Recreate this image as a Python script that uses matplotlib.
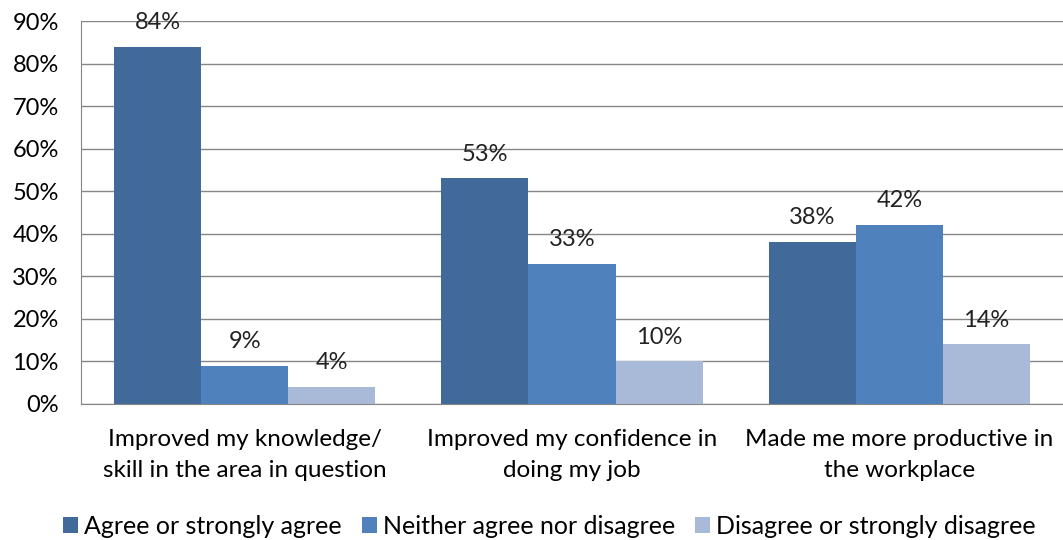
import matplotlib
matplotlib.use("Agg")
import matplotlib.pyplot as plt
import numpy as np

categories = ["Improved my knowledge/\nskill in the area in question",
              "Improved my confidence in\ndoing my job",
              "Made me more productive in\nthe workplace"]
series = ["Agree or strongly agree", "Neither agree nor disagree", "Disagree or strongly disagree"]
agree = [84, 53, 38]
neither = [9, 33, 42]
disagree = [4, 10, 14]
colors = ["#41699A", "#4F81BD", "#A9BAD9"]

plt.rcParams['font.family'] = ['Lato', 'DejaVu Sans']

fig = plt.figure(figsize=(10.63, 5.40), dpi=100)
ax = fig.add_axes([81/1063, 1 - 404/540, (1063 - 81)/1063, (404 - 21)/540])

x = np.arange(len(categories))
w = 0.266
for i, (vals, name) in enumerate(zip([agree, neither, disagree], series)):
    pos = x + (i - 1) * w
    ax.bar(pos, vals, width=w, color=colors[i], label=name, zorder=3)
    for p, v in zip(pos, vals):
        ax.annotate(f"{v}%", (p, v), xytext=(0, 10), textcoords="offset points",
                    ha="center", va="bottom", fontsize=17, color="#222222")

ax.set_xlim(-0.5, 2.5)
ax.set_ylim(0, 90)
ax.set_yticks(range(0, 91, 10))
ax.set_yticklabels([f"{t}%" for t in range(0, 91, 10)], fontsize=17)
ax.set_xticks(x)
ax.set_xticklabels(categories, fontsize=17.5, linespacing=1.6)
ax.tick_params(axis="y", length=0, pad=16)
ax.tick_params(axis="x", length=0, pad=18)
ax.yaxis.grid(True, color="#868686", linewidth=1, zorder=0)
for s in ["top", "right"]:
    ax.spines[s].set_visible(False)
for s in ["left", "bottom"]:
    ax.spines[s].set_color("#868686")
ax.spines["bottom"].set_zorder(4)

ax.legend(loc="lower center", bbox_to_anchor=(0.477, -0.375), ncol=3, frameon=False,
          fontsize=18, handlelength=0.6, handleheight=0.6, handletextpad=0.25,
          columnspacing=0.8, borderaxespad=0)

fig.savefig("out.png", dpi=100)
